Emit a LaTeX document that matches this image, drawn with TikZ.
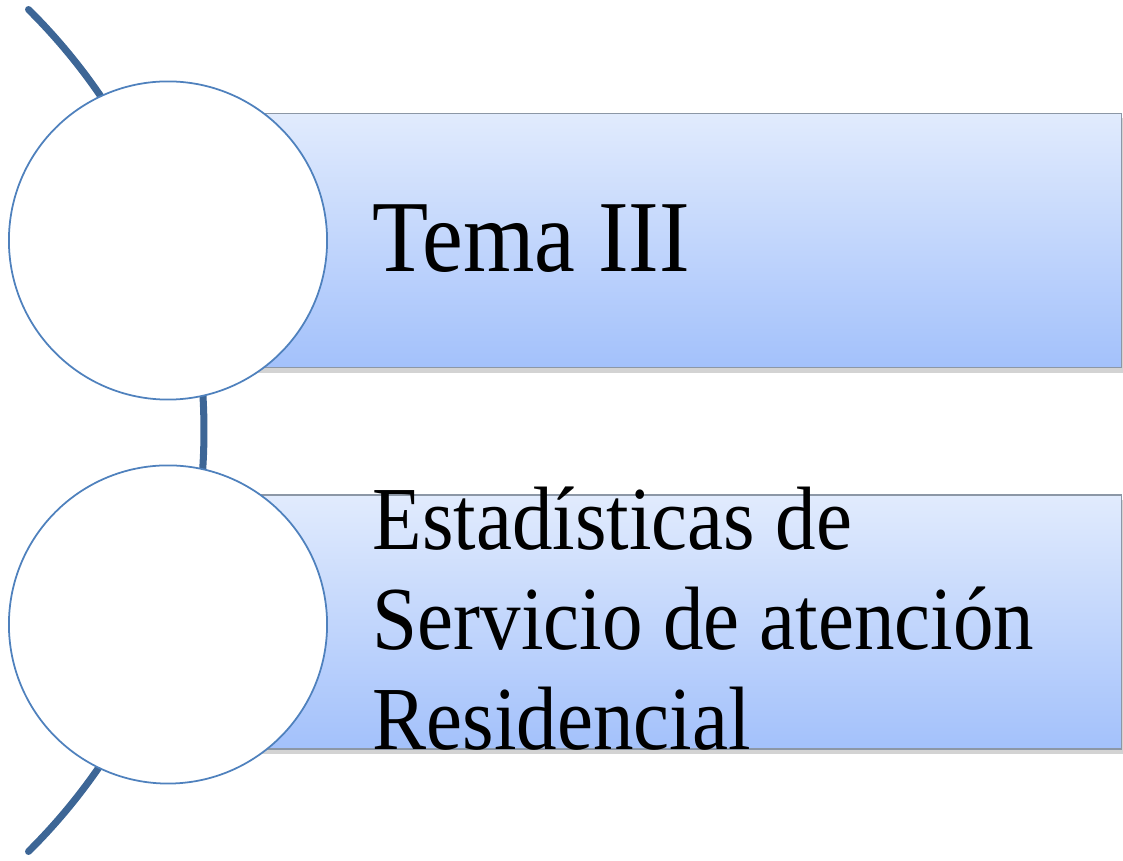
\documentclass[tikz,border=0pt]{standalone}
\usepackage{fontspec}
\newfontfamily\bandfont{Liberation Serif}[FakeStretch=0.9]
\usetikzlibrary{positioning,shadows}

\definecolor{spineblue}{HTML}{3D6696}
\definecolor{ringblue}{HTML}{4F81BD}
\definecolor{bandtop}{HTML}{E1EBFD}
\definecolor{bandbot}{HTML}{A3C1FB}
\definecolor{bandedge}{HTML}{8C97A6}

\begin{document}
\begin{tikzpicture}[x=0.01cm,y=-0.01cm,node distance=0.64cm,
  spine/.style={line width=2pt,draw=spineblue,line cap=round},
  ring/.style={circle,draw=ringblue,line width=0.5pt,fill=white,
    minimum size=3.18cm,inner sep=0pt},
  band/.style={rectangle,draw=bandedge,line width=0.4pt,
    top color=bandtop,bottom color=bandbot,
    minimum width=9.52cm,minimum height=2.54cm,inner sep=0pt,anchor=west,
    drop shadow={shadow xshift=0.03cm,shadow yshift=-0.05cm,opacity=0.35}},
  caption/.style={inner sep=0pt,anchor=base west,align=left}]
  \useasboundingbox (0,0) rectangle (1123,861);

  % the curved spine behind the list
  \coordinate (hub) at (-388.8,430.5);
  \draw[spine] (hub) ++(-45.25:592.8) arc[start angle=-45.25,end angle=45.25,radius=592.8];

  % positions of the two circles
  \coordinate (p_1) at (168,240.5);
  \coordinate (p_2) at (168,622);

  % bands first, circles over them
  \node[band] (b_1) at (p_1) {};
  \node[band] (b_2) at (p_2) {};
  \node[ring] (c_1) at (p_1) {};
  \node[ring] (c_2) [below=of c_1] {};

  % texts (base of the second one is its last line)
  \node[caption,font=\bandfont\fontsize{29}{33}\selectfont] (t_1) at (372,272) {Tema III};
  \node[caption,font=\bandfont\fontsize{25.6}{28.45}\selectfont] (t_2) at (372,750)
    {Estadísticas de\\Servicio de atención\\Residencial};
\end{tikzpicture}
\end{document}
